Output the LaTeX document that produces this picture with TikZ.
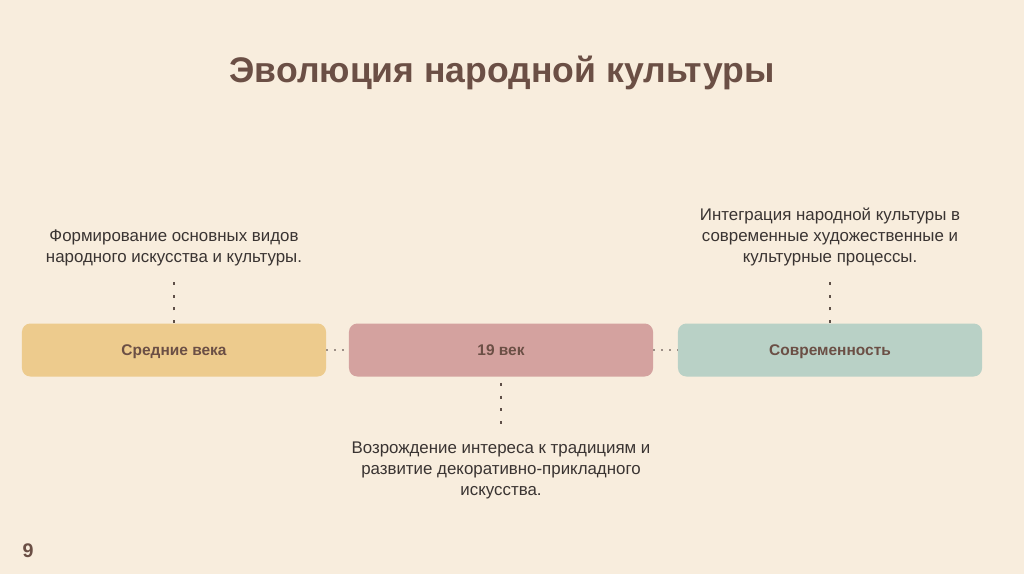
\documentclass[tikz,border=0pt]{standalone}
\usepackage{fontspec}
\setmainfont{Liberation Sans}
\usetikzlibrary{positioning}
\definecolor{clrbg}{HTML}{F8EDDD}
\definecolor{clrtitle}{HTML}{6B4F45}
\definecolor{clrmiddle}{HTML}{EDCB8D}
\definecolor{clrcentury}{HTML}{D4A29F}
\definecolor{clrmodern}{HTML}{B9D1C6}
\definecolor{clrnote}{HTML}{3A3432}
\definecolor{clrdots}{HTML}{5E4F47}
\definecolor{clrhdots}{HTML}{9C8F86}

\begin{document}
\begin{tikzpicture}[
    x=0.025cm, y=-0.025cm,
    period/.style={rounded corners=6pt, minimum width=7.6cm, minimum height=1.325cm,
                   font=\fontsize{11}{13}\selectfont\bfseries, text=clrtitle, inner sep=0pt,
                   text height=0.72em, text depth=0pt},
    note/.style={align=center, font=\fontsize{12}{14.9}\selectfont, text=clrnote},
    vdots/.style={draw=clrdots, line width=2.1pt, dash pattern=on 2.1pt off 7pt},
    hdots/.style={draw=clrhdots, line width=1.5pt, dash pattern=on 1.5pt off 4.2pt},
]
\fill[clrbg] (0,0) rectangle (1024,574);
\useasboundingbox (0,0) rectangle (1024,574);

\node[font=\fontsize{25.3}{29}\selectfont\bfseries, text=clrtitle] (title) at (502,73) {Эволюция народной культуры};

\node[period, fill=clrmiddle] (b_1) at (174,350) {Средние века};
\node[period, fill=clrcentury] (b_2) at (501,350) {19 век};
\node[period, fill=clrmodern] (b_3) at (830,350) {Современность};

\node[note, above=1.3cm of b_1] (n_1) {Формирование основных видов\\народного искусства и культуры.};
\node[note, above=1.3cm of b_3] (n_3) {Интеграция народной культуры в\\современные художественные и\\культурные процессы.};
\node[note, below=1.5cm of b_2] (n_2) {Возрождение интереса к традициям и\\развитие декоративно-прикладного\\искусства.};

\draw[hdots] (b_1.east) -- (b_2.west);
\draw[hdots] (b_2.east) -- (b_3.west);
\draw[vdots, shorten >=0.25cm] (b_1.north) -- (n_1.south);
\draw[vdots, shorten >=0.25cm] (b_3.north) -- (n_3.south);
\draw[vdots, shorten <=0.15cm, shorten >=0.3cm] (b_2.south) -- (n_2.north);

\node[font=\fontsize{14}{16}\selectfont\bfseries, text=clrtitle] (page) at (28,551) {9};
\end{tikzpicture}
\end{document}
